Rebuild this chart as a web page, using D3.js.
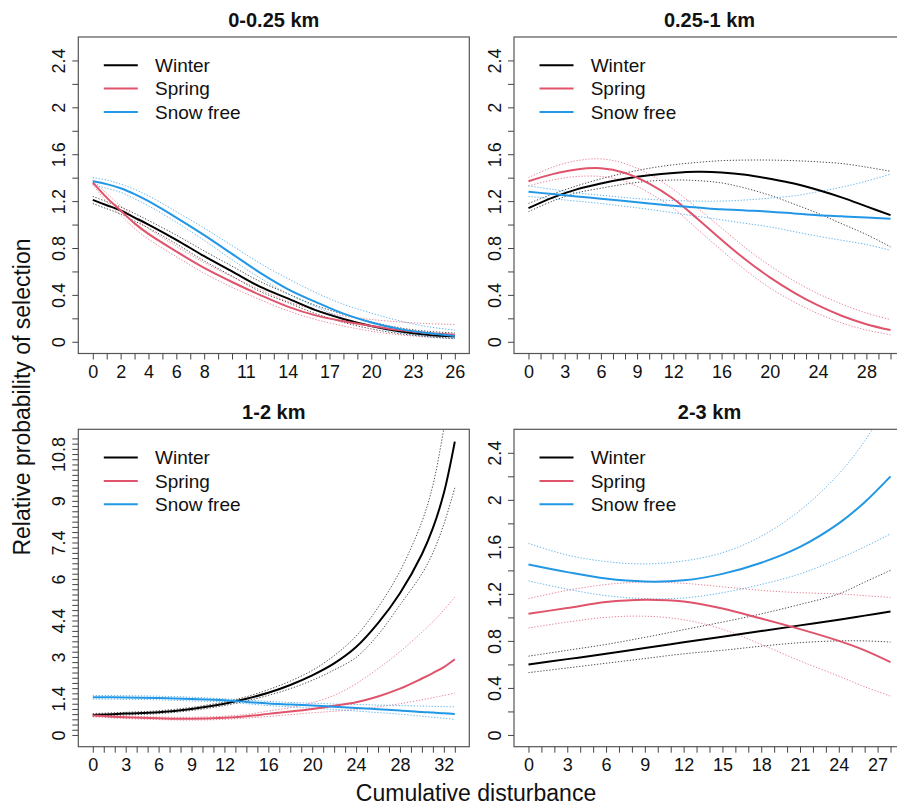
<!DOCTYPE html>
<html>
<head>
<meta charset="utf-8">
<script src="https://cdn.jsdelivr.net/npm/d3@7"></script>
<style>
  body { margin: 0; background: #fff; }
  text { font-family: "Liberation Sans", Arial, sans-serif; }
</style>
</head>
<body>
<svg id="chart" width="897" height="805"></svg>
<script>
// ---------------- DATA ----------------
const seasons = ["Winter", "Spring", "Snow free"];
const seasonColors = ["#000000", "#DF536B", "#2297E6"];
const panelTitles = ["0-0.25 km", "0.25-1 km", "1-2 km", "2-3 km"];
const yAxisTitle = "Relative probability of selection";
const xAxisTitle = "Cumulative disturbance";

// Panel 1: 0-0.25 km
const p1X = [0, 1, 2, 3, 4, 6, 8, 10, 12, 14, 16, 18, 20, 22, 24, 26];
const p1WinterMean = [1.21, 1.165, 1.12, 1.06, 1.00, 0.87, 0.73, 0.60, 0.47, 0.37, 0.27, 0.195, 0.135, 0.09, 0.06, 0.045];
const p1WinterUpper = [1.24, 1.195, 1.15, 1.095, 1.035, 0.91, 0.775, 0.645, 0.515, 0.41, 0.31, 0.235, 0.17, 0.12, 0.09, 0.075];
const p1WinterLower = [1.18, 1.135, 1.09, 1.03, 0.97, 0.835, 0.69, 0.56, 0.43, 0.335, 0.24, 0.165, 0.11, 0.07, 0.045, 0.03];
const p1SpringMean = [1.36, 1.23, 1.12, 1.01, 0.92, 0.77, 0.63, 0.51, 0.40, 0.30, 0.225, 0.175, 0.135, 0.10, 0.075, 0.06];
const p1SpringUpper = [1.38, 1.265, 1.16, 1.055, 0.965, 0.815, 0.675, 0.555, 0.445, 0.345, 0.27, 0.22, 0.19, 0.17, 0.155, 0.147];
const p1SpringLower = [1.34, 1.195, 1.08, 0.965, 0.875, 0.725, 0.585, 0.465, 0.36, 0.265, 0.19, 0.135, 0.09, 0.06, 0.04, 0.025];
const p1SnowMean = [1.37, 1.345, 1.31, 1.26, 1.20, 1.06, 0.91, 0.75, 0.59, 0.45, 0.34, 0.24, 0.165, 0.11, 0.075, 0.05];
const p1SnowUpper = [1.40, 1.38, 1.345, 1.30, 1.245, 1.11, 0.97, 0.82, 0.67, 0.54, 0.42, 0.32, 0.245, 0.18, 0.13, 0.10];
const p1SnowLower = [1.34, 1.31, 1.275, 1.22, 1.16, 1.02, 0.865, 0.70, 0.545, 0.41, 0.30, 0.20, 0.13, 0.08, 0.045, 0.025];

// Panel 2: 0.25-1 km
const p2X = [0, 2, 4, 6, 8, 10, 12, 14, 16, 18, 20, 22, 24, 26, 28, 30];
const p2WinterMean = [1.14, 1.23, 1.30, 1.35, 1.39, 1.42, 1.44, 1.45, 1.445, 1.425, 1.39, 1.35, 1.295, 1.23, 1.155, 1.08];
const p2WinterUpper = [1.18, 1.26, 1.33, 1.39, 1.44, 1.48, 1.51, 1.53, 1.545, 1.55, 1.55, 1.545, 1.535, 1.52, 1.49, 1.455];
const p2WinterLower = [1.11, 1.20, 1.27, 1.31, 1.345, 1.37, 1.38, 1.375, 1.355, 1.31, 1.25, 1.175, 1.095, 1.005, 0.915, 0.81];
const p2SpringMean = [1.37, 1.43, 1.47, 1.48, 1.44, 1.35, 1.22, 1.05, 0.87, 0.70, 0.55, 0.42, 0.31, 0.22, 0.15, 0.10];
const p2SpringUpper = [1.40, 1.49, 1.545, 1.56, 1.52, 1.43, 1.30, 1.14, 0.97, 0.80, 0.65, 0.52, 0.41, 0.32, 0.245, 0.19];
const p2SpringLower = [1.33, 1.38, 1.41, 1.41, 1.37, 1.27, 1.14, 0.96, 0.78, 0.61, 0.46, 0.34, 0.24, 0.16, 0.10, 0.06];
const p2SnowMean = [1.28, 1.26, 1.24, 1.22, 1.20, 1.18, 1.16, 1.145, 1.13, 1.12, 1.11, 1.095, 1.08, 1.07, 1.06, 1.05];
const p2SnowUpper = [1.33, 1.30, 1.27, 1.25, 1.23, 1.215, 1.205, 1.20, 1.20, 1.21, 1.225, 1.245, 1.28, 1.32, 1.37, 1.43];
const p2SnowLower = [1.24, 1.22, 1.20, 1.18, 1.155, 1.13, 1.10, 1.07, 1.04, 1.01, 0.98, 0.94, 0.90, 0.865, 0.83, 0.78];

// Panel 3: 1-2 km
const p3X = [0, 3, 6, 9, 12, 14, 16, 18, 20, 22, 24, 26, 28, 30, 31, 32, 33];
const p3WinterMean = [0.77, 0.82, 0.87, 1.0, 1.2, 1.39, 1.62, 1.92, 2.29, 2.75, 3.38, 4.3, 5.45, 6.95, 7.95, 9.3, 11.28];
const p3WinterUpper = [0.82, 0.87, 0.93, 1.06, 1.27, 1.47, 1.74, 2.07, 2.48, 3.05, 3.8, 4.9, 6.3, 8.2, 9.6, 11.77, 14.2];
const p3WinterLower = [0.72, 0.77, 0.82, 0.94, 1.13, 1.31, 1.52, 1.78, 2.1, 2.5, 2.98, 3.85, 5.0, 6.2, 7.0, 8.1, 9.5];
const p3SpringMean = [0.75, 0.68, 0.64, 0.62, 0.66, 0.72, 0.81, 0.9, 1.0, 1.12, 1.26, 1.48, 1.78, 2.17, 2.38, 2.61, 2.91];
const p3SpringUpper = [0.80, 0.73, 0.69, 0.68, 0.72, 0.79, 0.92, 1.05, 1.24, 1.52, 1.97, 2.55, 3.2, 3.95, 4.35, 4.8, 5.3];
const p3SpringLower = [0.70, 0.63, 0.59, 0.57, 0.60, 0.65, 0.71, 0.78, 0.85, 0.91, 0.98, 1.08, 1.2, 1.35, 1.43, 1.52, 1.61];
const p3SnowMean = [1.45, 1.44, 1.42, 1.38, 1.33, 1.27, 1.21, 1.17, 1.13, 1.085, 1.04, 0.99, 0.94, 0.88, 0.86, 0.83, 0.81];
const p3SnowUpper = [1.52, 1.51, 1.49, 1.45, 1.39, 1.34, 1.29, 1.25, 1.22, 1.19, 1.17, 1.15, 1.13, 1.11, 1.10, 1.09, 1.08];
const p3SnowLower = [1.38, 1.37, 1.35, 1.31, 1.27, 1.20, 1.13, 1.08, 1.03, 0.98, 0.92, 0.86, 0.80, 0.72, 0.68, 0.64, 0.60];

// Panel 4: 2-3 km
const p4X = [0, 3, 6, 9, 12, 15, 18, 21, 24, 26, 28];
const p4WinterMean = [0.60, 0.645, 0.69, 0.74, 0.788, 0.836, 0.884, 0.932, 0.98, 1.015, 1.05];
const p4WinterUpper = [0.67, 0.72, 0.77, 0.83, 0.895, 0.96, 1.03, 1.11, 1.20, 1.30, 1.40];
const p4WinterLower = [0.53, 0.57, 0.61, 0.65, 0.69, 0.72, 0.755, 0.785, 0.80, 0.80, 0.79];
const p4SpringMean = [1.03, 1.08, 1.13, 1.15, 1.135, 1.075, 0.99, 0.90, 0.80, 0.72, 0.62];
const p4SpringUpper = [1.16, 1.23, 1.28, 1.30, 1.29, 1.26, 1.23, 1.21, 1.20, 1.185, 1.17];
const p4SpringLower = [0.91, 0.96, 1.00, 1.01, 0.98, 0.90, 0.77, 0.63, 0.50, 0.41, 0.33];
const p4SnowMean = [1.45, 1.385, 1.33, 1.305, 1.315, 1.37, 1.465, 1.60, 1.80, 1.98, 2.2];
const p4SnowUpper = [1.63, 1.53, 1.475, 1.455, 1.48, 1.55, 1.69, 1.91, 2.22, 2.50, 2.85];
const p4SnowLower = [1.31, 1.24, 1.185, 1.16, 1.165, 1.21, 1.28, 1.37, 1.50, 1.60, 1.71];

// Axis ticks and labels
const p1XLabels = [0, 2, 4, 6, 8, 11, 14, 17, 20, 23, 26];
const p2XLabels = [0, 3, 6, 9, 12, 16, 20, 24, 28];
const p3XLabels = [0, 3, 6, 9, 12, 16, 20, 24, 28, 32];
const p4XLabels = [0, 3, 6, 9, 12, 15, 18, 21, 24, 27];
const smallYLabels = [0, 0.4, 0.8, 1.2, 1.6, 2, 2.4];
const bigYLabels = [0, 1.4, 3, 4.4, 6, 7.4, 9, 10.8];
const smallYLim = [0, 2.5];
const bigYLim = [0, 11.3];

// ---------------- BUILD ----------------
const panels = [
  { title: panelTitles[0], x: p1X, xLabels: p1XLabels, yLim: smallYLim, yLabels: smallYLabels, yTickMax: 2.4,
    series: [[p1WinterMean, p1WinterUpper, p1WinterLower], [p1SpringMean, p1SpringUpper, p1SpringLower], [p1SnowMean, p1SnowUpper, p1SnowLower]],
    box: [78.3, 37, 391, 316.5] },
  { title: panelTitles[1], x: p2X, xLabels: p2XLabels, yLim: smallYLim, yLabels: smallYLabels, yTickMax: 2.4,
    series: [[p2WinterMean, p2WinterUpper, p2WinterLower], [p2SpringMean, p2SpringUpper, p2SpringLower], [p2SnowMean, p2SnowUpper, p2SnowLower]],
    box: [514, 37, 391, 316.5] },
  { title: panelTitles[2], x: p3X, xLabels: p3XLabels, yLim: bigYLim, yLabels: bigYLabels, yTickMax: 11.4,
    series: [[p3WinterMean, p3WinterUpper, p3WinterLower], [p3SpringMean, p3SpringUpper, p3SpringLower], [p3SnowMean, p3SnowUpper, p3SnowLower]],
    box: [78.3, 429.3, 391, 317.4] },
  { title: panelTitles[3], x: p4X, xLabels: p4XLabels, yLim: smallYLim, yLabels: smallYLabels, yTickMax: 2.4,
    series: [[p4WinterMean, p4WinterUpper, p4WinterLower], [p4SpringMean, p4SpringUpper, p4SpringLower], [p4SnowMean, p4SnowUpper, p4SnowLower]],
    box: [514, 429.3, 391, 317.4] }
];

const svg = d3.select("#chart");
svg.append("rect").attr("width", 897).attr("height", 805).attr("fill", "#fff");

const round = v => Math.round(v * 1000) / 1000;

panels.forEach((p, pi) => {
  const [bx, by, bw, bh] = p.box;
  const xmin = d3.min(p.x), xmax = d3.max(p.x);
  const xr = xmax - xmin;
  const x = d3.scaleLinear().domain([xmin - 0.04 * xr, xmax + 0.04 * xr]).range([bx, bx + bw]);
  const yr = p.yLim[1] - p.yLim[0];
  const y = d3.scaleLinear().domain([p.yLim[0] - 0.04 * yr, p.yLim[1] + 0.04 * yr]).range([by + bh, by]);

  const clipId = "clip" + pi;
  svg.append("clipPath").attr("id", clipId)
    .append("rect").attr("x", bx).attr("y", by).attr("width", bw).attr("height", bh);

  const g = svg.append("g");
  const plot = g.append("g").attr("clip-path", `url(#${clipId})`);

  const line = d3.line().curve(d3.curveCatmullRom.alpha(0.5))
    .x(d => x(d[0])).y(d => y(d[1]));

  // CI lines first
  p.series.forEach((s, si) => {
    [s[1], s[2]].forEach(arr => {
      plot.append("path")
        .attr("d", line(p.x.map((xv, i) => [xv, arr[i]])))
        .attr("fill", "none")
        .attr("stroke", seasonColors[si])
        .attr("stroke-opacity", 0.7)
        .attr("stroke-width", 1)
        .attr("stroke-dasharray", "1.3,1.7");
    });
  });
  p.series.forEach((s, si) => {
    plot.append("path")
      .attr("d", line(p.x.map((xv, i) => [xv, s[0][i]])))
      .attr("fill", "none")
      .attr("stroke", seasonColors[si])
      .attr("stroke-width", 2);
  });

  // Box
  g.append("rect").attr("x", bx).attr("y", by).attr("width", bw).attr("height", bh)
    .attr("fill", "none").attr("stroke", "#555").attr("stroke-width", 1.2);

  // X axis
  const xTicks = d3.range(xmin, xmax + 1, 1);
  const xAxis = d3.axisBottom(x).tickValues(xTicks).tickSize(6)
    .tickFormat(d => p.xLabels.includes(d) ? String(d) : "");
  const xg = g.append("g").attr("transform", `translate(0,${by + bh})`).call(xAxis);
  xg.select(".domain").remove();
  xg.selectAll(".tick line").attr("stroke", "#444");
  xg.selectAll(".tick text").attr("y", 24).attr("dy", 0)
    .attr("font-size", 18).attr("fill", "#111")
    .attr("font-family", "Liberation Sans, Arial, sans-serif");

  // Y axis
  const nY = Math.round(p.yTickMax / 0.2);
  const yTicks = d3.range(0, nY + 1).map(i => round(i * 0.2));
  const yAxis = d3.axisLeft(y).tickValues(yTicks).tickSize(6)
    .tickFormat(d => p.yLabels.some(l => Math.abs(l - d) < 1e-6) ? String(d) : "");
  const yg = g.append("g").attr("transform", `translate(${bx},0)`).call(yAxis);
  yg.select(".domain").remove();
  yg.selectAll(".tick line").attr("stroke", "#444");
  yg.selectAll(".tick text")
    .attr("x", 0).attr("y", -13.3).attr("dy", 0)
    .attr("transform", "rotate(-90)")
    .attr("text-anchor", "middle")
    .attr("font-size", 18).attr("fill", "#111")
    .attr("font-family", "Liberation Sans, Arial, sans-serif");

  // Title
  g.append("text").attr("x", bx + bw / 2).attr("y", by - 10.5)
    .attr("text-anchor", "middle").attr("font-weight", "bold").attr("font-size", 20)
    .attr("fill", "#111").text(p.title);

  // Legend
  const lg = g.append("g");
  seasons.forEach((name, si) => {
    const ly = by + 28.3 + si * 23.3;
    lg.append("line").attr("x1", bx + 25.5).attr("x2", bx + 59.5)
      .attr("y1", ly).attr("y2", ly)
      .attr("stroke", seasonColors[si]).attr("stroke-width", 2);
    lg.append("text").attr("x", bx + 76.7).attr("y", ly + 6.8)
      .attr("font-size", 19).attr("fill", "#111").text(name);
  });
});

// Axis titles
svg.append("text").attr("transform", "translate(30,397) rotate(-90)")
  .attr("text-anchor", "middle").attr("font-size", 23).attr("fill", "#111").text(yAxisTitle);
svg.append("text").attr("x", 476).attr("y", 801)
  .attr("text-anchor", "middle").attr("font-size", 23).attr("fill", "#111").text(xAxisTitle);
</script>
</body>
</html>
